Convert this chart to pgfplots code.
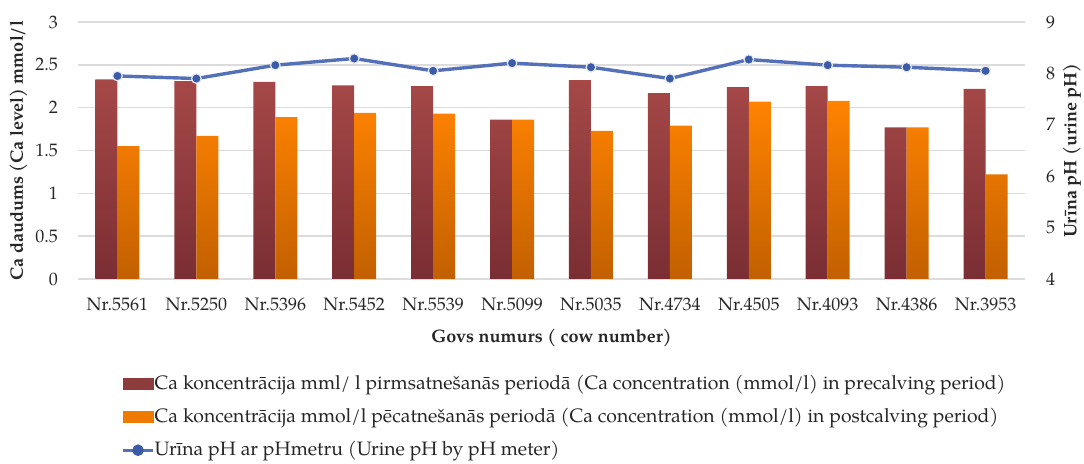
\documentclass[border=0pt]{standalone}
\usepackage{fontspec}
\setmainfont{TeX Gyre Pagella}
\usepackage{pgfplots}
\pgfplotsset{compat=1.18}

\definecolor{redTop}{HTML}{A64848}
\definecolor{redBot}{HTML}{7A2E33}
\definecolor{redLeg}{HTML}{8E3B3D}
\definecolor{orTop}{HTML}{FF8300}
\definecolor{orBot}{HTML}{C26000}
\definecolor{orLeg}{HTML}{EE7A00}
\definecolor{lineBlue}{HTML}{5470B8}
\definecolor{markBlue}{HTML}{3B5BA8}
\definecolor{gridGray}{HTML}{DCDCDC}
\definecolor{txt}{HTML}{262626}

\begin{document}
\begin{tikzpicture}[font=\fontsize{9}{10.8}\selectfont, text=txt]
% fix the page to the reference proportions (1084 x 464 px at 0.5pt/px)
\useasboundingbox (-39pt,-92.5pt) rectangle (503pt,139.5pt);

\begin{axis}[
    at={(0,0)}, anchor=south west,
    scale only axis,
    width=473.5pt, height=128.5pt,
    xmin=-0.5, xmax=11.5,
    ymin=0, ymax=3,
    ytick={0,0.5,...,3},
    xtick={0,...,11},
    xticklabels={Nr.5561,Nr.5250,Nr.5396,Nr.5452,Nr.5539,Nr.5099,Nr.5035,Nr.4734,Nr.4505,Nr.4093,Nr.4386,Nr.3953},
    axis line style={draw=none},
    major tick length=0pt,
    ymajorgrids,
    grid style={gridGray, line width=0.7pt},
    /pgf/number format/assume math mode=true,
    yticklabel style={xshift=-6.5pt},
    xticklabel style={yshift=-6pt},
    ybar=0pt, bar width=11pt,
    xlabel={\textbf{Govs numurs ( cow number)}},
    ylabel={\textbf{Ca daudums (Ca level) mmol/l}},
    every axis x label/.style={at={(axis description cs:0.5,0)}, yshift=-29.5pt, anchor=center},
    every axis y label/.style={at={(axis description cs:0,0.5)}, xshift=-29.75pt, rotate=90, anchor=center},
]
\addplot[draw=none, top color=redTop, bottom color=redBot] coordinates {
    (0,2.33) (1,2.31) (2,2.30) (3,2.26) (4,2.25) (5,1.86)
    (6,2.32) (7,2.17) (8,2.24) (9,2.25) (10,1.77) (11,2.22)
};
\addplot[draw=none, top color=orTop, bottom color=orBot] coordinates {
    (0,1.55) (1,1.67) (2,1.89) (3,1.94) (4,1.93) (5,1.86)
    (6,1.73) (7,1.79) (8,2.07) (9,2.08) (10,1.77) (11,1.22)
};
\end{axis}

\begin{axis}[
    at={(0,0)}, anchor=south west,
    scale only axis,
    width=473.5pt, height=128.5pt,
    xmin=-0.5, xmax=11.5,
    ymin=4, ymax=9,
    ytick={4,...,9},
    axis y line*=right,
    axis x line=none,
    axis line style={draw=none},
    major tick length=0pt,
    /pgf/number format/assume math mode=true,
    yticklabel style={xshift=7pt},
    ylabel={\textbf{Urīna pH (urine pH)}},
    every axis y label/.style={at={(axis description cs:1,0.5)}, xshift=23.5pt, rotate=90, anchor=center},
    legend cell align=left,
    legend style={
        at={(axis description cs:0.039,-0.355)}, anchor=north west,
        draw=none, fill=none,
        font=\fontsize{9.7}{11}\selectfont,
        row sep=7.4pt,
        nodes={inner sep=0pt, text height=7.2pt, text depth=2pt},
        /tikz/every even column/.append style={column sep=1.5pt},
    },
]
\addlegendimage{legend image code/.code={\fill[redLeg] (0pt,-2.75pt) rectangle (15pt,2.75pt);}}
\addlegendentry{Ca koncentrācija mml/ l pirmsatnešanās periodā (Ca concentration (mmol/l) in precalving period)}
\addlegendimage{legend image code/.code={\fill[orLeg] (0pt,-2.75pt) rectangle (15pt,2.75pt);}}
\addlegendentry{Ca koncentrācija mmol/l pēcatnešanās periodā (Ca concentration (mmol/l) in postcalving period)}
\addplot[color=lineBlue, line width=1.7pt, mark=*, mark size=2.4pt,
    mark options={fill=markBlue, draw=white!85!lineBlue, line width=0.6pt},
    legend image code/.code={
        \draw[lineBlue, line width=1.7pt] (0pt,0pt) -- (15pt,0pt);
        \fill[markBlue] (7.5pt,0pt) circle (2pt);
    }] coordinates {
    (0,7.95) (1,7.90) (2,8.16) (3,8.29) (4,8.05) (5,8.20)
    (6,8.12) (7,7.90) (8,8.27) (9,8.16) (10,8.12) (11,8.05)
};
\addlegendentry{Urīna pH ar pHmetru (Urine pH by pH meter)}
\end{axis}
\end{tikzpicture}
\end{document}
